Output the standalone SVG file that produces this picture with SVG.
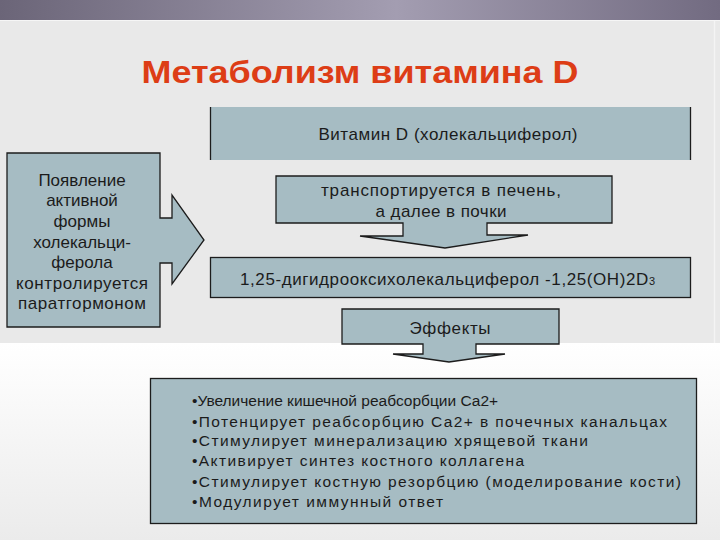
<svg xmlns="http://www.w3.org/2000/svg" width="720" height="540" viewBox="0 0 720 540">
<defs>
<linearGradient id="bar" x1="0" y1="0" x2="1" y2="0">
<stop offset="0" stop-color="#6b6578"/>
<stop offset="0.55" stop-color="#a39db1"/>
<stop offset="1" stop-color="#726b81"/>
</linearGradient>
<linearGradient id="low" x1="0" y1="0" x2="0" y2="1">
<stop offset="0" stop-color="#ffffff"/>
<stop offset="1" stop-color="#ebebeb"/>
</linearGradient>
<style>
.box{fill:#a6bcc3;stroke:#1c1c1c;stroke-width:1.3;stroke-linejoin:miter}
.t{font-family:"Liberation Sans",Arial,sans-serif;font-size:17px;fill:#1b1b1b}
.c{text-anchor:middle}
.b{font-family:"Liberation Sans",Arial,sans-serif;font-size:15.5px;fill:#1b1b1b}
</style>
</defs>
<rect x="0" y="0" width="720" height="540" fill="#e9e9e9"/>
<rect x="0" y="343" width="720" height="197" fill="url(#low)"/>
<rect x="0" y="0" width="720" height="20" fill="url(#bar)"/>
<line x1="0" y1="20.5" x2="720" y2="20.5" stroke="#f6f6f6" stroke-width="1"/>
<line x1="714.5" y1="21" x2="714.5" y2="343" stroke="#f4f4f4" stroke-width="1.5"/>
<text id="title" x="360" y="83" text-anchor="middle" font-family="'Liberation Sans',Arial,sans-serif" font-weight="bold" font-size="32" fill="#dd3d16" textLength="437" lengthAdjust="spacingAndGlyphs">Метаболизм витамина D</text>

<g id="connectors"/>

<g id="n-vitamin">
<rect x="210" y="107" width="481" height="53" fill="#a6bcc3"/>
<line x1="210.5" y1="107" x2="210.5" y2="160" stroke="#1c1c1c" stroke-width="1.3"/>
<line x1="690.5" y1="107" x2="690.5" y2="160" stroke="#1c1c1c" stroke-width="1.3"/>
<text class="t c" x="448" y="140" textLength="259">Витамин D (холекальциферол)</text>
</g>

<g id="n-transport">
<path class="box" d="M276,176 H612 V223 H487 V235 H528 L445,248 L360,236 H403 V223 H276 Z"/>
<text class="t c" x="441" y="196" textLength="240">транспортируется в печень,</text>
<text class="t c" x="441" y="217" textLength="131">а далее в почки</text>
</g>

<g id="n-active">
<path class="box" d="M7,153 H160 V218 H172 V195 L204,240 L172,284 V263 H160 V327 H7 Z"/>
<text class="t c" x="82" y="186">Появление</text>
<text class="t c" x="82" y="206">активной</text>
<text class="t c" x="82" y="227">формы</text>
<text class="t c" x="82" y="248">холекальци-</text>
<text class="t c" x="82" y="268">ферола</text>
<text class="t c" x="82" y="289" textLength="132">контролируется</text>
<text class="t c" x="82" y="309" textLength="128">паратгормоном</text>
</g>

<g id="n-calcitriol">
<rect class="box" x="210.5" y="257.5" width="480" height="40"/>
<text class="t" x="240" y="285" textLength="415">1,25-дигидрооксихолекальциферол -1,25(ОН)2D<tspan font-size="11">3</tspan></text>
</g>

<g id="n-effects">
<path class="box" d="M342,309 H559 V344 H476 V354 H505 L449,362 L393,354 H423 V344 H342 Z"/>
<text class="t c" x="450" y="334" textLength="81">Эффекты</text>
</g>

<g id="n-list">
<rect class="box" x="150.5" y="378.5" width="546" height="145"/>
<text class="b" x="192" y="406">•Увеличение кишечной реабсорбции Са2+</text>
<text class="b" x="192" y="427" textLength="475">•Потенцирует реабсорбцию Са2+ в почечных канальцах</text>
<text class="b" x="192" y="446" textLength="396">•Стимулирует минерализацию хрящевой ткани</text>
<text class="b" x="192" y="466" textLength="332">•Активирует синтез костного коллагена</text>
<text class="b" x="192" y="487" textLength="489">•Стимулирует костную резорбцию (моделирование кости)</text>
<text class="b" x="192" y="507" textLength="251">•Модулирует иммунный ответ</text>
</g>
</svg>
